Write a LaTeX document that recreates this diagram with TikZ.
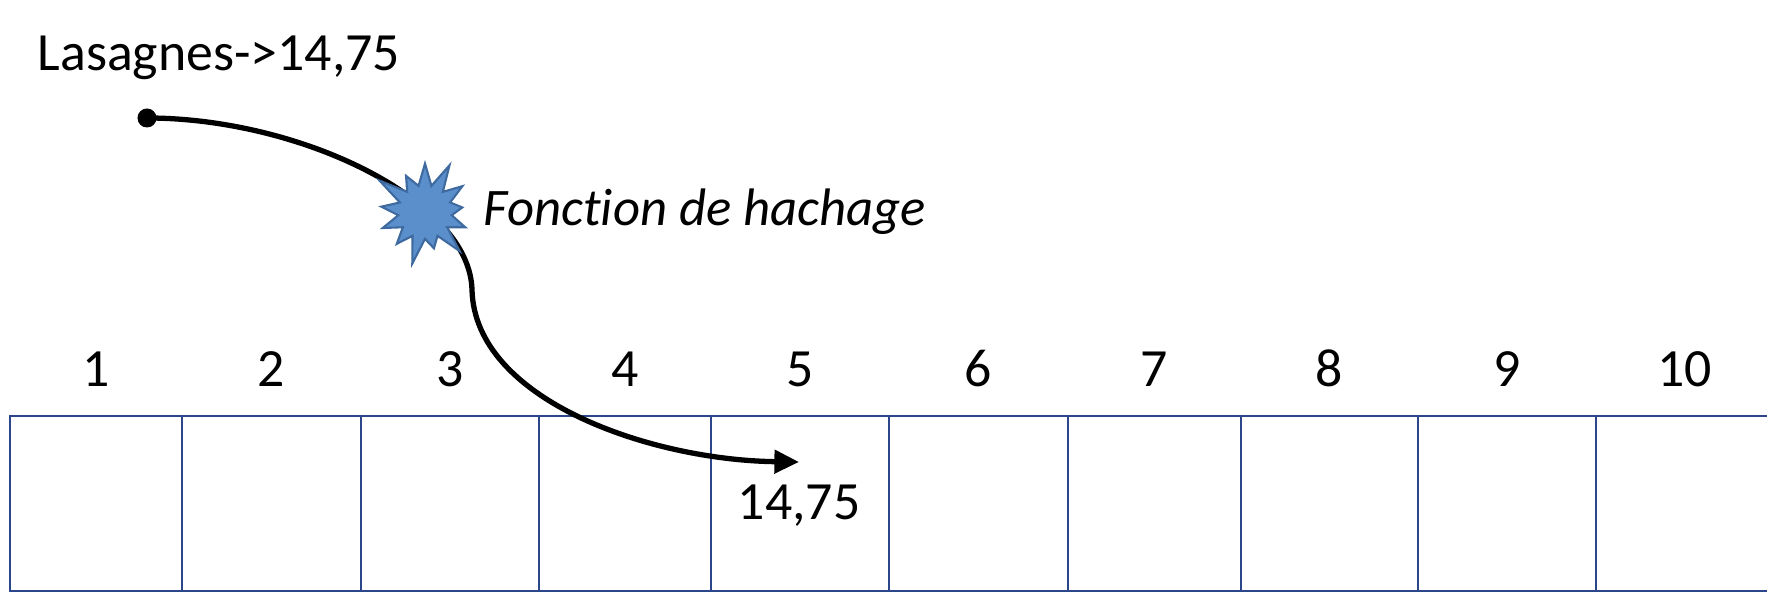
\documentclass[tikz,border=0pt]{standalone}
\usepackage{fontspec}
\setmainfont{Carlito}[Ligatures=NoCommon]
\usetikzlibrary{arrows.meta,shapes.symbols,positioning}
\definecolor{cellblue}{RGB}{44,70,140}
\definecolor{burstfill}{RGB}{91,143,204}
\definecolor{burstline}{RGB}{62,106,160}
\tikzstyle{cell} = [rectangle, draw=cellblue, line width=0.7pt, minimum height=1.75cm, inner sep=0pt]
\tikzstyle{txt} = [font=\fontsize{15.3}{19}\selectfont, inner sep=0pt]
\tikzstyle{num} = [txt, anchor=base]
\tikzstyle{dot} = [circle, fill=black, minimum size=0.19cm, inner sep=0pt]
\tikzstyle{burst} = [starburst, starburst points=13, starburst point height=0.3cm, inner sep=0.19cm, fill=burstfill, draw=burstline, line width=0.6pt]
\tikzstyle{link} = [line width=1.5pt, line cap=round, -{Triangle[length=7pt,width=6.5pt]}]

\begin{document}
\begin{tikzpicture}[x=0.01cm,y=-0.01cm]
  \clip (0,0) rectangle (1767,592);
  % table of buckets
  \foreach \a/\b [count=\i] in {10/182,182/361,361/539,539/711,711/889,889/1068,1068/1241,1241/1418,1418/1596,1596/1773} {
    \node[cell, minimum width={(\b-\a)*0.01cm}] (c\i) at ({(\a+\b)/2},503.5) {};
    \node[num] (n\i) at ([yshift=0.28cm]c\i.north) {\i};
  }
  \node[txt, anchor=base west] (key) at (37,71) {Lasagnes->14,75};
  \node[dot] (src) at (147,118) {};
  \coordinate (bend) at (472,290);
  \coordinate (tip) at (799,462);
  \draw[link] (src.center) .. controls (300,118) and (470,200) .. (bend) .. controls (475,400) and (650,460) .. (tip);
  \node[burst] (hash) at (425,212) {};
  \node[txt, anchor=base west, font=\fontsize{15}{19}\selectfont\itshape] (hashlbl) at (483,226) {Fonction de hachage};
  \node[num] (val) at (799,520) {14,75};
\end{tikzpicture}
\end{document}
